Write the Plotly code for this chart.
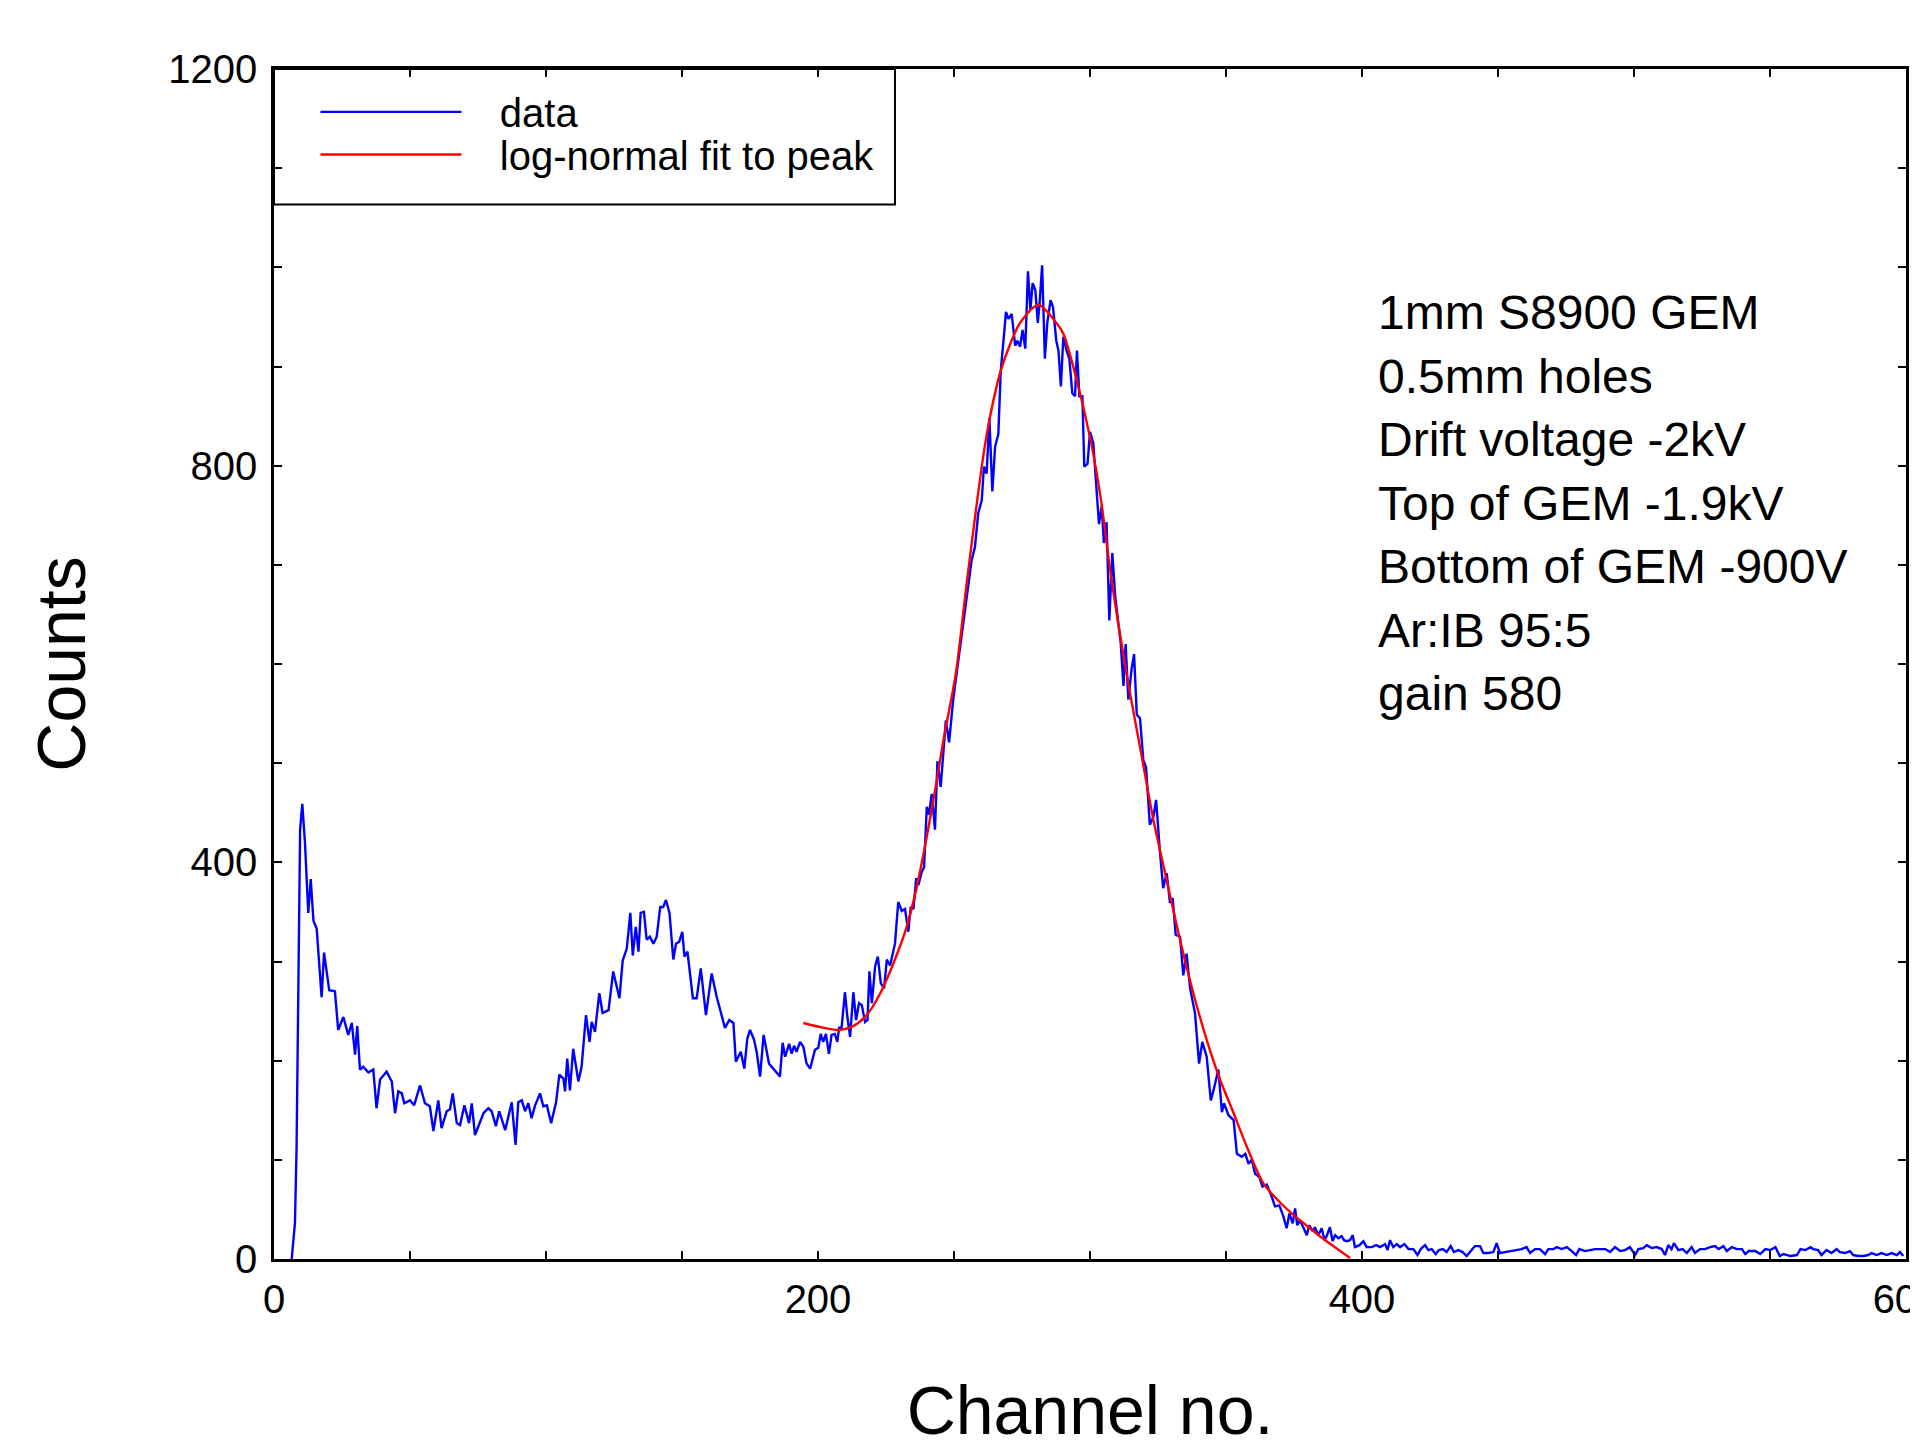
import plotly.graph_objects as go

# ---- data ----
channel = [
    6.5, 7.7, 8.3, 8.9, 9.6, 10.4, 11.4, 12.6, 13.5, 14.5, 15.7, 17.5, 18.4, 20.3, 22.4, 23.6,
    25.5, 27.3, 28.6, 29.8, 30.6, 31.6, 32.8, 34.7, 36.5, 37.7, 39.0, 41.4, 43.3, 44.5, 45.7,
    47.0, 47.9, 50.0, 51.5, 53.7, 55.5, 57.3, 58.6, 60.4, 61.6, 63.5, 64.7, 65.7, 67.2, 68.4,
    70.0, 71.7, 72.7, 73.9, 75.7, 77.0, 78.8, 80.0, 81.6, 82.8, 85.0, 86.2, 87.4, 88.8, 89.8,
    91.1, 92.3, 93.5, 94.7, 96.0, 97.8, 99.0, 100.3, 101.9, 103.7, 104.9, 106.4, 107.0, 107.8,
    108.8, 110.0, 111.9, 113.1, 114.7, 116.0, 116.8, 118.0, 119.6, 120.8, 123.0, 124.1, 124.7,
    127.0, 128.2, 129.7, 131.0, 131.9, 133.0, 134.0, 134.8, 136.0, 137.0, 138.2, 139.5, 140.7,
    142.0, 143.1, 144.1, 145.4, 146.8, 147.8, 149.0, 150.1, 150.9, 152.0, 154.0, 155.4, 156.9,
    158.8, 160.9, 162.7, 165.8, 167.4, 168.9, 169.8, 171.6, 172.9, 174.0, 175.0, 176.5, 177.5,
    178.7, 180.0, 182.0, 186.0, 187.0, 187.9, 189.4, 190.3, 191.2, 192.1, 193.4, 194.6, 195.8,
    197.1, 198.9, 200.1, 201.0, 201.9, 202.9, 204.0, 205.0, 206.2, 207.1, 207.8, 208.6, 209.9,
    210.8, 211.8, 213.0, 214.0, 215.1, 216.1, 217.3, 218.2, 218.9, 219.8, 221.0, 222.0, 223.1,
    224.3, 225.3, 226.5, 228.3, 229.5, 230.8, 232.0, 233.2, 234.1, 235.1, 236.1, 236.9, 238.1,
    239.0, 240.0, 240.8, 241.8, 243.0, 243.9, 245.1, 247.0, 248.2, 249.7, 251.0, 252.8, 254.0,
    255.3, 256.5, 257.7, 258.9, 260.2, 261.0, 262.0, 263.0, 264.1, 265.1, 266.3, 267.2, 268.2,
    269.1, 270.0, 271.2, 272.5, 273.3, 274.3, 275.2, 276.2, 277.2, 278.1, 278.9, 279.9, 280.8,
    281.5, 282.4, 283.4, 284.3, 285.5, 286.4, 287.6, 288.4, 289.3, 290.2, 291.4, 292.4, 293.5,
    294.5, 295.2, 296.1, 297.2, 297.9, 299.1, 300.0, 301.2, 302.2, 303.3, 304.3, 305.1, 306.1,
    307.1, 308.2, 309.2, 310.4, 311.3, 312.3, 313.1, 314.1, 315.3, 316.2, 317.2, 318.4, 319.6,
    320.6, 322.0, 323.3, 324.3, 325.7, 326.9, 328.2, 329.4, 330.4, 331.5, 333.1, 334.3, 335.5,
    336.8, 338.6, 340.1, 341.3, 342.9, 344.4, 345.4, 347.2, 348.5, 349.3, 350.9, 352.8, 354.0,
    355.8, 357.1, 358.3, 359.5, 360.7, 362.2, 363.4, 365.0, 366.8, 368.0, 369.6, 371.1, 372.3,
    373.3, 374.5, 375.4, 376.2, 377.2, 378.4, 379.7, 380.6, 381.9, 382.7, 383.9, 385.2, 386.2,
    387.0, 388.2, 389.2, 390.1, 391.3, 392.5, 393.4, 394.4, 395.6, 396.6, 397.4, 399.1, 400.5,
    401.7, 403.6, 405.2, 406.6, 408.5, 409.4, 410.3, 411.5, 412.8, 414.0, 415.6, 417.1, 418.9,
    420.4, 421.6, 423.2, 424.4, 425.6, 427.1, 428.3, 429.7, 431.1, 432.6, 433.8, 435.4, 437.0,
    438.5, 440.3, 441.5, 443.4, 444.6, 446.4, 448.3, 449.5, 450.7, 452.6, 454.4, 456.9, 458.7,
    460.5, 461.8, 463.6, 465.4, 467.3, 468.5, 470.4, 471.6, 473.4, 475.3, 477.1, 478.7, 479.9,
    482.0, 483.8, 485.7, 487.5, 489.4, 491.2, 493.0, 494.9, 496.7, 498.5, 500.4, 501.6, 503.4,
    504.7, 506.5, 508.3, 510.2, 511.4, 512.6, 513.8, 514.7, 516.3, 517.9, 519.4, 521.2, 522.4,
    524.3, 526.1, 528.0, 529.8, 531.1, 532.9, 534.1, 536.0, 537.8, 539.7, 540.9, 542.2, 544.6,
    546.4, 548.3, 550.1, 552.0, 553.6, 555.0, 557.5, 559.9, 561.2, 563.0, 564.9, 565.9, 567.7,
    568.9, 570.8, 572.6, 574.5, 575.7, 577.6, 579.4, 580.6, 582.5, 584.3, 586.1, 587.4, 589.2,
    591.0, 592.9, 594.7, 596.6, 597.8, 599.0,
]
counts = [
    0, 36, 113, 248, 433, 459, 419, 349, 383, 341, 333, 264, 309, 271, 270, 231,
    244, 226, 238, 206, 235, 191, 194, 188, 191, 152, 181, 189, 179, 147, 169,
    167, 157, 160, 155, 175, 157, 154, 129, 160, 132, 149, 151, 167, 137, 135,
    155, 137, 157, 125, 137, 147, 152, 149, 134, 149, 130, 143, 158, 115, 158,
    160, 149, 157, 142, 155, 167, 154, 155, 137, 158, 186, 182, 169, 202,
    170, 212, 179, 194, 246, 219, 239, 229, 268, 248, 251, 278, 290,
    263, 301, 313, 349, 306, 335, 310, 349, 350, 322, 325, 318, 325,
    355, 355, 362, 349, 302, 318, 320, 330, 305, 310, 263, 263, 293,
    246, 288, 265, 233, 241, 238, 199, 209, 192, 222, 231, 221, 208,
    184, 226, 197, 184, 218, 204, 217, 207, 215, 209, 219, 214, 197,
    192, 211, 213, 227, 219, 227, 207, 226, 227, 219, 234, 231, 269,
    244, 224, 269, 241, 258, 256, 239, 241, 290, 258, 295, 305, 278,
    273, 302, 296, 318, 360, 351, 353, 330, 355, 353, 384, 377, 390,
    395, 456, 448, 469, 433, 502, 476, 543, 521, 564, 591, 628, 655,
    681, 705, 718, 752, 765, 799, 792, 848, 774, 819, 832, 896, 926,
    955, 948, 953, 921, 926, 920, 937, 918, 996, 957, 984, 977, 944,
    965, 1002, 908, 944, 967, 960, 926, 916, 880, 930, 916, 908, 873,
    870, 916, 870, 870, 799, 802, 834, 823, 786, 741, 759, 722, 743,
    644, 712, 671, 641, 621, 578, 620, 564, 595, 610, 549, 545, 503,
    496, 438, 446, 463, 411, 374, 389, 359, 364, 327, 325, 286, 308,
    273, 248, 197, 219, 204, 160, 170, 191, 148, 157, 145, 140, 106,
    103, 106, 96, 100, 86, 83, 73, 75, 63, 53, 54, 43, 31,
    46, 36, 51, 34, 39, 32, 24, 34, 28, 32, 24, 31, 19,
    23, 32, 18, 24, 21, 23, 19, 18, 19, 24, 12, 14, 18,
    12, 12, 14, 12, 15, 9, 19, 12, 15, 12, 15, 10, 10,
    4, 10, 14, 9, 10, 5, 9, 10, 7, 13, 7, 9, 7,
    3, 9, 13, 13, 6, 6, 7, 16, 6, 7, 8, 9, 10,
    12, 6, 10, 10, 5, 10, 10, 12, 10, 12, 8, 4, 10,
    8, 9, 10, 10, 10, 7, 12, 8, 9, 12, 4, 10, 11,
    14, 11, 12, 10, 4, 14, 10, 16, 9, 10, 6, 12, 6,
    10, 10, 12, 13, 10, 13, 8, 12, 10, 10, 5, 8, 8,
    5, 10, 9, 12, 3, 5, 3, 4, 10, 9, 12, 10, 9,
    4, 9, 6, 10, 7, 6, 8, 4, 3, 3, 4, 6, 4,
    6, 4, 6, 4, 7, 3,
]

fit_channel = [
    194.6, 200.7, 207.4, 212.4, 217.9, 222.9, 227.7, 232.6, 236.3, 240.0, 243.7, 246.1,
    250.7, 255.1, 261.7, 266.9, 270.7, 274.3, 281.1, 287.6, 290.2, 294.5, 300.2, 304.0,
    307.6, 313.4, 318.8, 323.3, 328.2, 333.1, 338.0, 342.9, 347.8, 352.8, 357.7, 363.8,
    369.9, 375.0, 380.0, 385.0, 390.0, 395.6,
]
fit_counts = [
    238, 234, 231, 234, 246, 268, 298, 335, 375, 426, 483, 523,
    591, 691, 826, 893, 923, 944, 962, 944, 933, 893, 826, 766,
    691, 591, 510, 443, 382, 322, 268, 221, 181, 147, 113, 76,
    57, 44, 33, 22, 12, 1,
]

series_names = ["data", "log-normal fit to peak"]
x_range = [0, 600]
y_range = [0, 1200]
x_major, x_minor = 200, 50
y_major, y_minor = 400, 100

info_lines = [
    "1mm S8900 GEM",
    "0.5mm holes",
    "Drift voltage -2kV",
    "Top of GEM -1.9kV",
    "Bottom of GEM -900V",
    "Ar:IB 95:5",
    "gain 580",
]

FONT = "Liberation Sans, Arial, Helvetica, sans-serif"
GAP = "\u00a0\u00a0\u00a0"

fig = go.Figure()
fig.add_trace(go.Scatter(
    x=channel, y=counts, mode="lines", name=GAP + series_names[0],
    line=dict(color="#0000ff", width=2.4), legend="legend",
))
fig.add_trace(go.Scatter(
    x=fit_channel, y=fit_counts, mode="lines", name=GAP + series_names[1],
    line=dict(color="#ff0000", width=2.4, shape="spline", smoothing=0.8), legend="legend2",
))

axis_common = dict(
    showline=True, linecolor="black", linewidth=2.5, mirror="ticks",
    ticks="inside", ticklen=8, tickwidth=2, tickcolor="black",
    showgrid=False, zeroline=False, automargin=False,
    tickfont=dict(family=FONT, size=40, color="black"),
    ticklabeloverflow="allow",
)

fig.update_xaxes(
    range=x_range, tick0=0, dtick=x_major,
    minor=dict(dtick=x_minor, ticks="inside", ticklen=8, tickwidth=2, tickcolor="black", showgrid=False),
    title=dict(text="Channel no.", font=dict(family=FONT, size=68, color="black"), standoff=86),
    ticklabelstandoff=3,
    **axis_common,
)
fig.update_yaxes(
    range=y_range, tick0=0, dtick=y_major,
    minor=dict(dtick=y_minor, ticks="inside", ticklen=8, tickwidth=2, tickcolor="black", showgrid=False),
    title=dict(text="Counts", font=dict(family=FONT, size=68, color="black"), standoff=61),
    ticklabelstandoff=6,
    **axis_common,
)

y_top = 0.7952
y_step = 0.0534
for i, line in enumerate(info_lines):
    fig.add_annotation(
        text=line, xref="paper", yref="paper", x=0.6750, y=y_top - i * y_step,
        xanchor="left", yanchor="middle", showarrow=False,
        font=dict(family=FONT, size=48, color="black"),
    )

# frame around the two legend entries
fig.add_shape(
    type="rect", xref="paper", yref="paper", x0=0, x1=0.3805, y0=0.8862, y1=1,
    line=dict(color="black", width=2), fillcolor="rgba(0,0,0,0)", layer="above",
)

legend_common = dict(
    x=0.0254, xanchor="left", yanchor="middle",
    bgcolor="rgba(0,0,0,0)", borderwidth=0,
    font=dict(family=FONT, size=40, color="black"),
    itemwidth=141,
)

fig.update_layout(
    width=1910, height=1440,
    margin=dict(l=266, r=12, t=60.5, b=189),
    paper_bgcolor="white", plot_bgcolor="white",
    showlegend=True,
    legend=dict(y=0.9640, **legend_common),
    legend2=dict(y=0.9281, **legend_common),
)

fig.write_html("out.html")
